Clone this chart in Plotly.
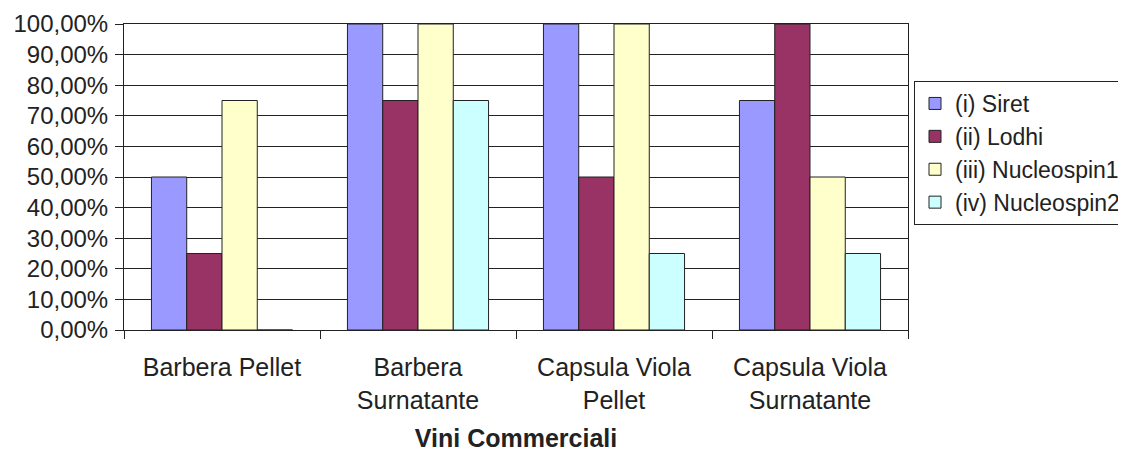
import plotly.graph_objects as go

categories = ["Barbera Pellet", "Barbera<br>Surnatante", "Capsula Viola<br>Pellet", "Capsula Viola<br>Surnatante"]
series_names = ["(i) Siret", "(ii) Lodhi", "(iii) Nucleospin1", "(iv) Nucleospin2"]
siret = [0.50, 1.00, 1.00, 0.75]
lodhi = [0.25, 0.75, 0.50, 1.00]
nucleospin1 = [0.75, 1.00, 1.00, 0.50]
nucleospin2 = [0.00, 0.75, 0.25, 0.25]
colors = ["#9999FF", "#993366", "#FFFFCC", "#CCFFFF"]
yticks = [i / 10 for i in range(11)]

FONT = "Arial, Liberation Sans, sans-serif"
fig = go.Figure()
for name, vals, col in zip(series_names, [siret, lodhi, nucleospin1, nucleospin2], colors):
    fig.add_trace(go.Bar(x=categories, y=vals, name=name,
                         marker=dict(color=col, line=dict(color="#222222", width=1))))

W, H = 1118, 444
ML, MR, MT, MB = 116, 218, 16, 122
PW, PH = W - ML - MR, H - MT - MB

fig.update_layout(
    width=W, height=H,
    barmode="group", bargap=0.28, bargroupgap=0,
    separators=",.",
    paper_bgcolor="white", plot_bgcolor="white",
    margin=dict(l=ML, r=MR, t=MT, b=MB, autoexpand=False),
    font=dict(family=FONT, size=24, color="#222222"),
    legend=dict(x=(906 - ML) / PW, xanchor="left", y=(H - MB - 73) / PH, yanchor="top",
                bordercolor="#222222", borderwidth=1,
                font=dict(family=FONT, size=23, color="#222222"),
                itemwidth=30, tracegroupgap=0),
    xaxis=dict(showline=True, linecolor="#222222", linewidth=1, mirror=True,
               ticks="outside", tickson="boundaries", ticklen=8, tickcolor="#222222",
               showgrid=False, automargin=False, ticklabelstandoff=15,
               title=dict(text="<b>Vini Commerciali</b>", font=dict(size=25), standoff=16),
               tickfont=dict(size=25)),
    yaxis=dict(range=[0, 1], tickvals=yticks, tickformat=".2%",
               showline=True, linecolor="#222222", linewidth=1, mirror=True,
               ticks="outside", ticklen=8, tickcolor="#222222", automargin=False,
               showgrid=True, gridcolor="#222222", gridwidth=1, ticklabelstandoff=2,
               tickfont=dict(size=24), zeroline=False),
)

fig.write_html("out.html")
